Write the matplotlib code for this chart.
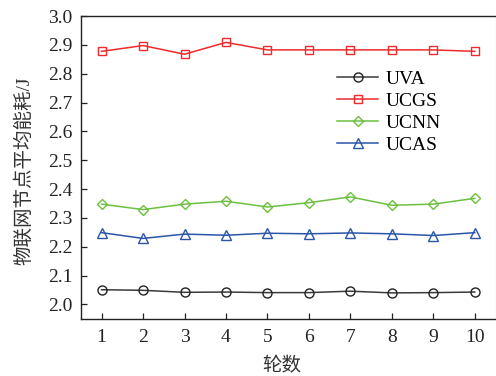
import matplotlib
matplotlib.use("Agg")
import matplotlib.pyplot as plt

plt.rcParams['font.family'] = ['Liberation Serif', 'Noto Sans CJK SC']
plt.rcParams['mathtext.fontset'] = 'stix'

# data
rounds = [1, 2, 3, 4, 5, 6, 7, 8, 9, 10]
uva = [2.051, 2.049, 2.042, 2.043, 2.041, 2.041, 2.046, 2.040, 2.041, 2.043]
ucgs = [2.878, 2.898, 2.868, 2.909, 2.883, 2.883, 2.883, 2.883, 2.883, 2.878]
ucnn = [2.348, 2.329, 2.348, 2.358, 2.338, 2.353, 2.373, 2.344, 2.348, 2.368]
ucas = [2.249, 2.229, 2.244, 2.240, 2.247, 2.245, 2.248, 2.245, 2.239, 2.249]
yticks = [2.0, 2.1, 2.2, 2.3, 2.4, 2.5, 2.6, 2.7, 2.8, 2.9, 3.0]

fig = plt.figure(figsize=(4.96, 3.76), dpi=100)
ax = fig.add_axes([0.163, 0.152, 0.836, 0.805])

ax.plot(rounds, uva, color='#3a3a3a', marker='o', mfc='none', mec='#222222',
        ms=6.5, lw=1.1, label='UVA')
ax.plot(rounds, ucgs, color='#ee2a2a', marker='s', mfc='none', mec='#ee2a2a',
        ms=5.5, lw=1.1, label='UCGS')
ax.plot(rounds, ucnn, color='#6cc040', marker='D', mfc='none', mec='#6cc040',
        ms=5.5, lw=1.1, label='UCNN')
ax.plot(rounds, ucas, color='#2a55a8', marker='^', mfc='none', mec='#2a55a8',
        ms=7, lw=1.1, label='UCAS')

ax.set_xlim(0.5, 10.5)
ax.set_ylim(1.95, 3.0)
ax.set_xticks(rounds)
ax.set_yticks(yticks)
ax.set_yticklabels([f"{v:.1f}" for v in yticks])
ax.tick_params(direction='in', labelsize=14, length=4, width=0.9, colors='#222222')
ax.tick_params(axis='x', pad=7)
ax.tick_params(axis='y', pad=6)

for side in ['left', 'bottom', 'top']:
    ax.spines[side].set_color('#222222')
    ax.spines[side].set_linewidth(1.0)
ax.spines['right'].set_color('#bbbbbb')
ax.spines['right'].set_linewidth(0.8)

ax.set_xlabel('轮数', fontsize=14, color='#333333')
ax.xaxis.set_label_coords(0.485, -0.128)
ax.set_ylabel('物联网节点平均能耗/J', fontsize=14, color='#333333')
ax.yaxis.set_label_coords(-0.115, 0.49)

ax.legend(loc='upper left', bbox_to_anchor=(0.6, 0.846), frameon=False,
          fontsize=14, handlelength=2.1, handletextpad=0.4, labelspacing=0.22,
          borderaxespad=0)

fig.savefig('out.png', dpi=100)
